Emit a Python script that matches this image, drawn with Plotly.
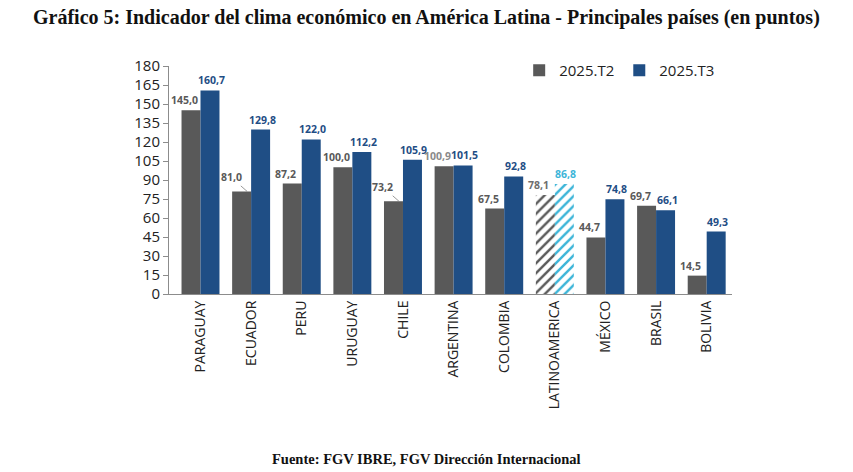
import plotly.graph_objects as go

categories = ["PARAGUAY", "ECUADOR", "PERU", "URUGUAY", "CHILE", "ARGENTINA",
              "COLOMBIA", "LATINOAMERICA", "MÉXICO", "BRASIL", "BOLIVIA"]
t2_values = [145.0, 81.0, 87.2, 100.0, 73.2, 100.9, 67.5, 78.1, 44.7, 69.7, 14.5]
t3_values = [160.7, 129.8, 122.0, 112.2, 105.9, 101.5, 92.8, 86.8, 74.8, 66.1, 49.3]
series_names = ["2025.T2", "2025.T3"]
y_ticks = list(range(0, 181, 15))
aggregate = "LATINOAMERICA"
title_text = "Gráfico 5: Indicador del clima económico en América Latina - Principales países (en puntos)"
source_text = "Fuente: FGV IBRE, FGV Dirección Internacional"

GRAY = "#595959"
BLUE = "#1F4E85"
CYAN = "#3DB5D8"

W, H = 853, 472
ML, MR, MT, MB = 169, 121, 66, 178
plot_h = H - MT - MB


def fmt(v):
    return f"{v:.1f}".replace(".", ",")


is_agg = [c == aggregate for c in categories]

fig = go.Figure()
fig.add_trace(go.Bar(
    x=categories, y=t2_values, name=series_names[0],
    marker=dict(color=[GRAY] * len(categories),
                pattern=dict(shape=["/" if a else "" for a in is_agg],
                             fillmode="replace", size=7, solidity=0.35),
                line=dict(width=0)),
))
fig.add_trace(go.Bar(
    x=categories, y=t3_values, name=series_names[1],
    marker=dict(color=[CYAN if a else BLUE for a in is_agg],
                pattern=dict(shape=["/" if a else "" for a in is_agg],
                             fillmode="replace", size=7, solidity=0.35),
                line=dict(width=0)),
))

annotations = []
leader = {"ECUADOR", "CHILE"}
for c, v2, v3, a in zip(categories, t2_values, t3_values, is_agg):
    gcol = "#8A8A8A" if c == "ARGENTINA" else ("#6E6E6E" if a else GRAY)
    gfont = dict(size=10.5, color=gcol, family="Open Sans")
    if c in leader:
        annotations.append(dict(x=c, y=v2, xref="x", yref="y", text="<b>" + fmt(v2) + "</b>",
                                showarrow=True, arrowhead=0, arrowwidth=0.8,
                                arrowcolor="#7F7F7F", ax=-16, ay=-14, xshift=-4,
                                standoff=0, font=gfont))
    else:
        annotations.append(dict(x=c, y=v2, xref="x", yref="y", text="<b>" + fmt(v2) + "</b>",
                                showarrow=False, yanchor="bottom", xshift=-16, yshift=1,
                                font=gfont))
    annotations.append(dict(x=c, y=v3, xref="x", yref="y", text="<b>" + fmt(v3) + "</b>",
                            showarrow=False, yanchor="bottom", xshift=11, yshift=1,
                            font=dict(size=10.5, color=CYAN if a else BLUE, family="Open Sans")))

annotations.append(dict(x=0.5, y=1 + (MT - 17) / plot_h, xref="paper", yref="paper",
                        yanchor="middle", xshift=-(ML - MR) / 2,
                        text="<b>" + title_text + "</b>", showarrow=False,
                        font=dict(size=20, color="#111111", family="Liberation Serif")))
annotations.append(dict(x=0.5, y=-(459 - (H - MB)) / plot_h, xref="paper", yref="paper",
                        yanchor="middle", xshift=-(ML - MR) / 2,
                        text="<b>" + source_text + "</b>", showarrow=False,
                        font=dict(size=14.5, color="#111111", family="Liberation Serif")))

fig.update_layout(
    width=W, height=H,
    margin=dict(l=ML, r=MR, t=MT, b=MB),
    paper_bgcolor="white", plot_bgcolor="white",
    barmode="group", bargap=0.25, bargroupgap=0,
    font=dict(family="Open Sans", color="#222222"),
    showlegend=True,
    legend=dict(orientation="h", x=0.622, y=0.98, xanchor="left", yanchor="middle",
                font=dict(size=15, color="#222222"), bgcolor="rgba(0,0,0,0)",
                itemwidth=30, tracegroupgap=0),
    annotations=annotations,
)
fig.update_xaxes(showline=True, linecolor="#8C8C8C", linewidth=1, ticks="",
                 tickangle=-90, tickfont=dict(size=14, color="#222222"),
                 showgrid=False)
fig.update_yaxes(range=[0, 180], tickvals=y_ticks, showline=True, linecolor="#8C8C8C",
                 linewidth=1, ticks="outside", ticklen=5, tickcolor="#8C8C8C",
                 tickfont=dict(size=15, color="#222222"), showgrid=False, zeroline=False)

fig.write_html("out.html")
